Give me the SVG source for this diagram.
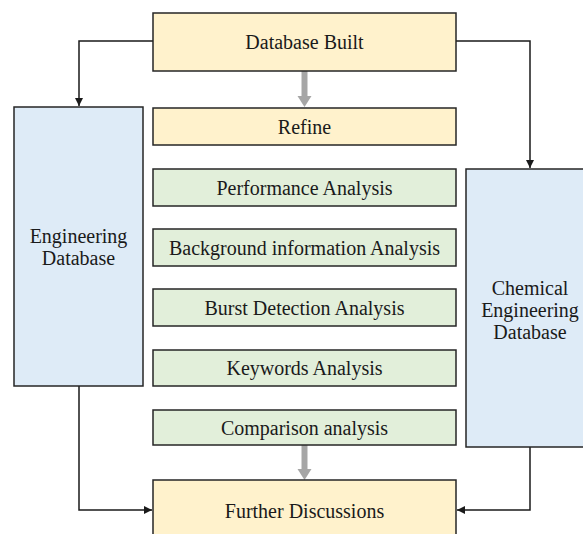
<svg xmlns="http://www.w3.org/2000/svg" width="583" height="534" viewBox="0 0 583 534">
  <style>
    .box { stroke: #262626; stroke-width: 1.5; }
    .yellow { fill: #FFF2CC; }
    .green { fill: #E2EFDA; }
    .blue { fill: #DEEBF7; }
    .lbl { font-family: "Liberation Serif", "Times New Roman", serif; font-size: 20px; fill: #1a1a1a; text-anchor: middle; }
    .conn { fill: none; stroke: #1a1a1a; stroke-width: 1.5; }
    .flow { fill: none; stroke: #A6A6A6; stroke-width: 6; }
  </style>
  <defs>
    <marker id="tip" viewBox="0 0 10 10" refX="10" refY="5" markerWidth="8" markerHeight="8" markerUnits="userSpaceOnUse" orient="auto">
      <path d="M0,0 L10,5 L0,10 Z" fill="#1a1a1a"/>
    </marker>
  </defs>

  <g id="connectors">
    <polyline class="conn" points="153,41 79,41 79,106" marker-end="url(#tip)"/>
    <polyline class="conn" points="456,41 530,41 530,168" marker-end="url(#tip)"/>
    <polyline class="conn" points="79,386 79,510 152,510" marker-end="url(#tip)"/>
    <polyline class="conn" points="530,447 530,510 457,510" marker-end="url(#tip)"/>
    <line class="flow" x1="304.5" y1="71" x2="304.5" y2="97"/>
    <path d="M297.5,96 L311.5,96 L304.5,107 Z" fill="#A6A6A6"/>
    <line class="flow" x1="304.5" y1="445" x2="304.5" y2="470"/>
    <path d="M297.5,469 L311.5,469 L304.5,480 Z" fill="#A6A6A6"/>
  </g>

  <g id="database-built">
    <rect class="box yellow" x="153" y="13" width="303" height="58"/>
    <text class="lbl" x="304.5" y="49">Database Built</text>
  </g>
  <g id="refine">
    <rect class="box yellow" x="153" y="108" width="303" height="37"/>
    <text class="lbl" x="304.5" y="134">Refine</text>
  </g>
  <g id="performance">
    <rect class="box green" x="153" y="169" width="303" height="37"/>
    <text class="lbl" x="304.5" y="195">Performance Analysis</text>
  </g>
  <g id="background">
    <rect class="box green" x="153" y="229" width="303" height="37"/>
    <text class="lbl" x="304.5" y="255">Background information Analysis</text>
  </g>
  <g id="burst">
    <rect class="box green" x="153" y="289" width="303" height="37"/>
    <text class="lbl" x="304.5" y="315">Burst Detection Analysis</text>
  </g>
  <g id="keywords">
    <rect class="box green" x="153" y="350" width="303" height="36"/>
    <text class="lbl" x="304.5" y="375">Keywords Analysis</text>
  </g>
  <g id="comparison">
    <rect class="box green" x="153" y="410" width="303" height="35"/>
    <text class="lbl" x="304.5" y="435">Comparison analysis</text>
  </g>
  <g id="further-discussions">
    <rect class="box yellow" x="153" y="480" width="303" height="70"/>
    <text class="lbl" x="304.5" y="518">Further Discussions</text>
  </g>
  <g id="engineering-db">
    <rect class="box blue" x="14" y="107" width="129" height="279"/>
    <text class="lbl" x="78.5" y="243">Engineering</text>
    <text class="lbl" x="78.5" y="265">Database</text>
  </g>
  <g id="chemical-db">
    <rect class="box blue" x="466" y="169" width="130" height="278"/>
    <text class="lbl" x="530" y="295">Chemical</text>
    <text class="lbl" x="530" y="317">Engineering</text>
    <text class="lbl" x="530" y="339">Database</text>
  </g>
</svg>
